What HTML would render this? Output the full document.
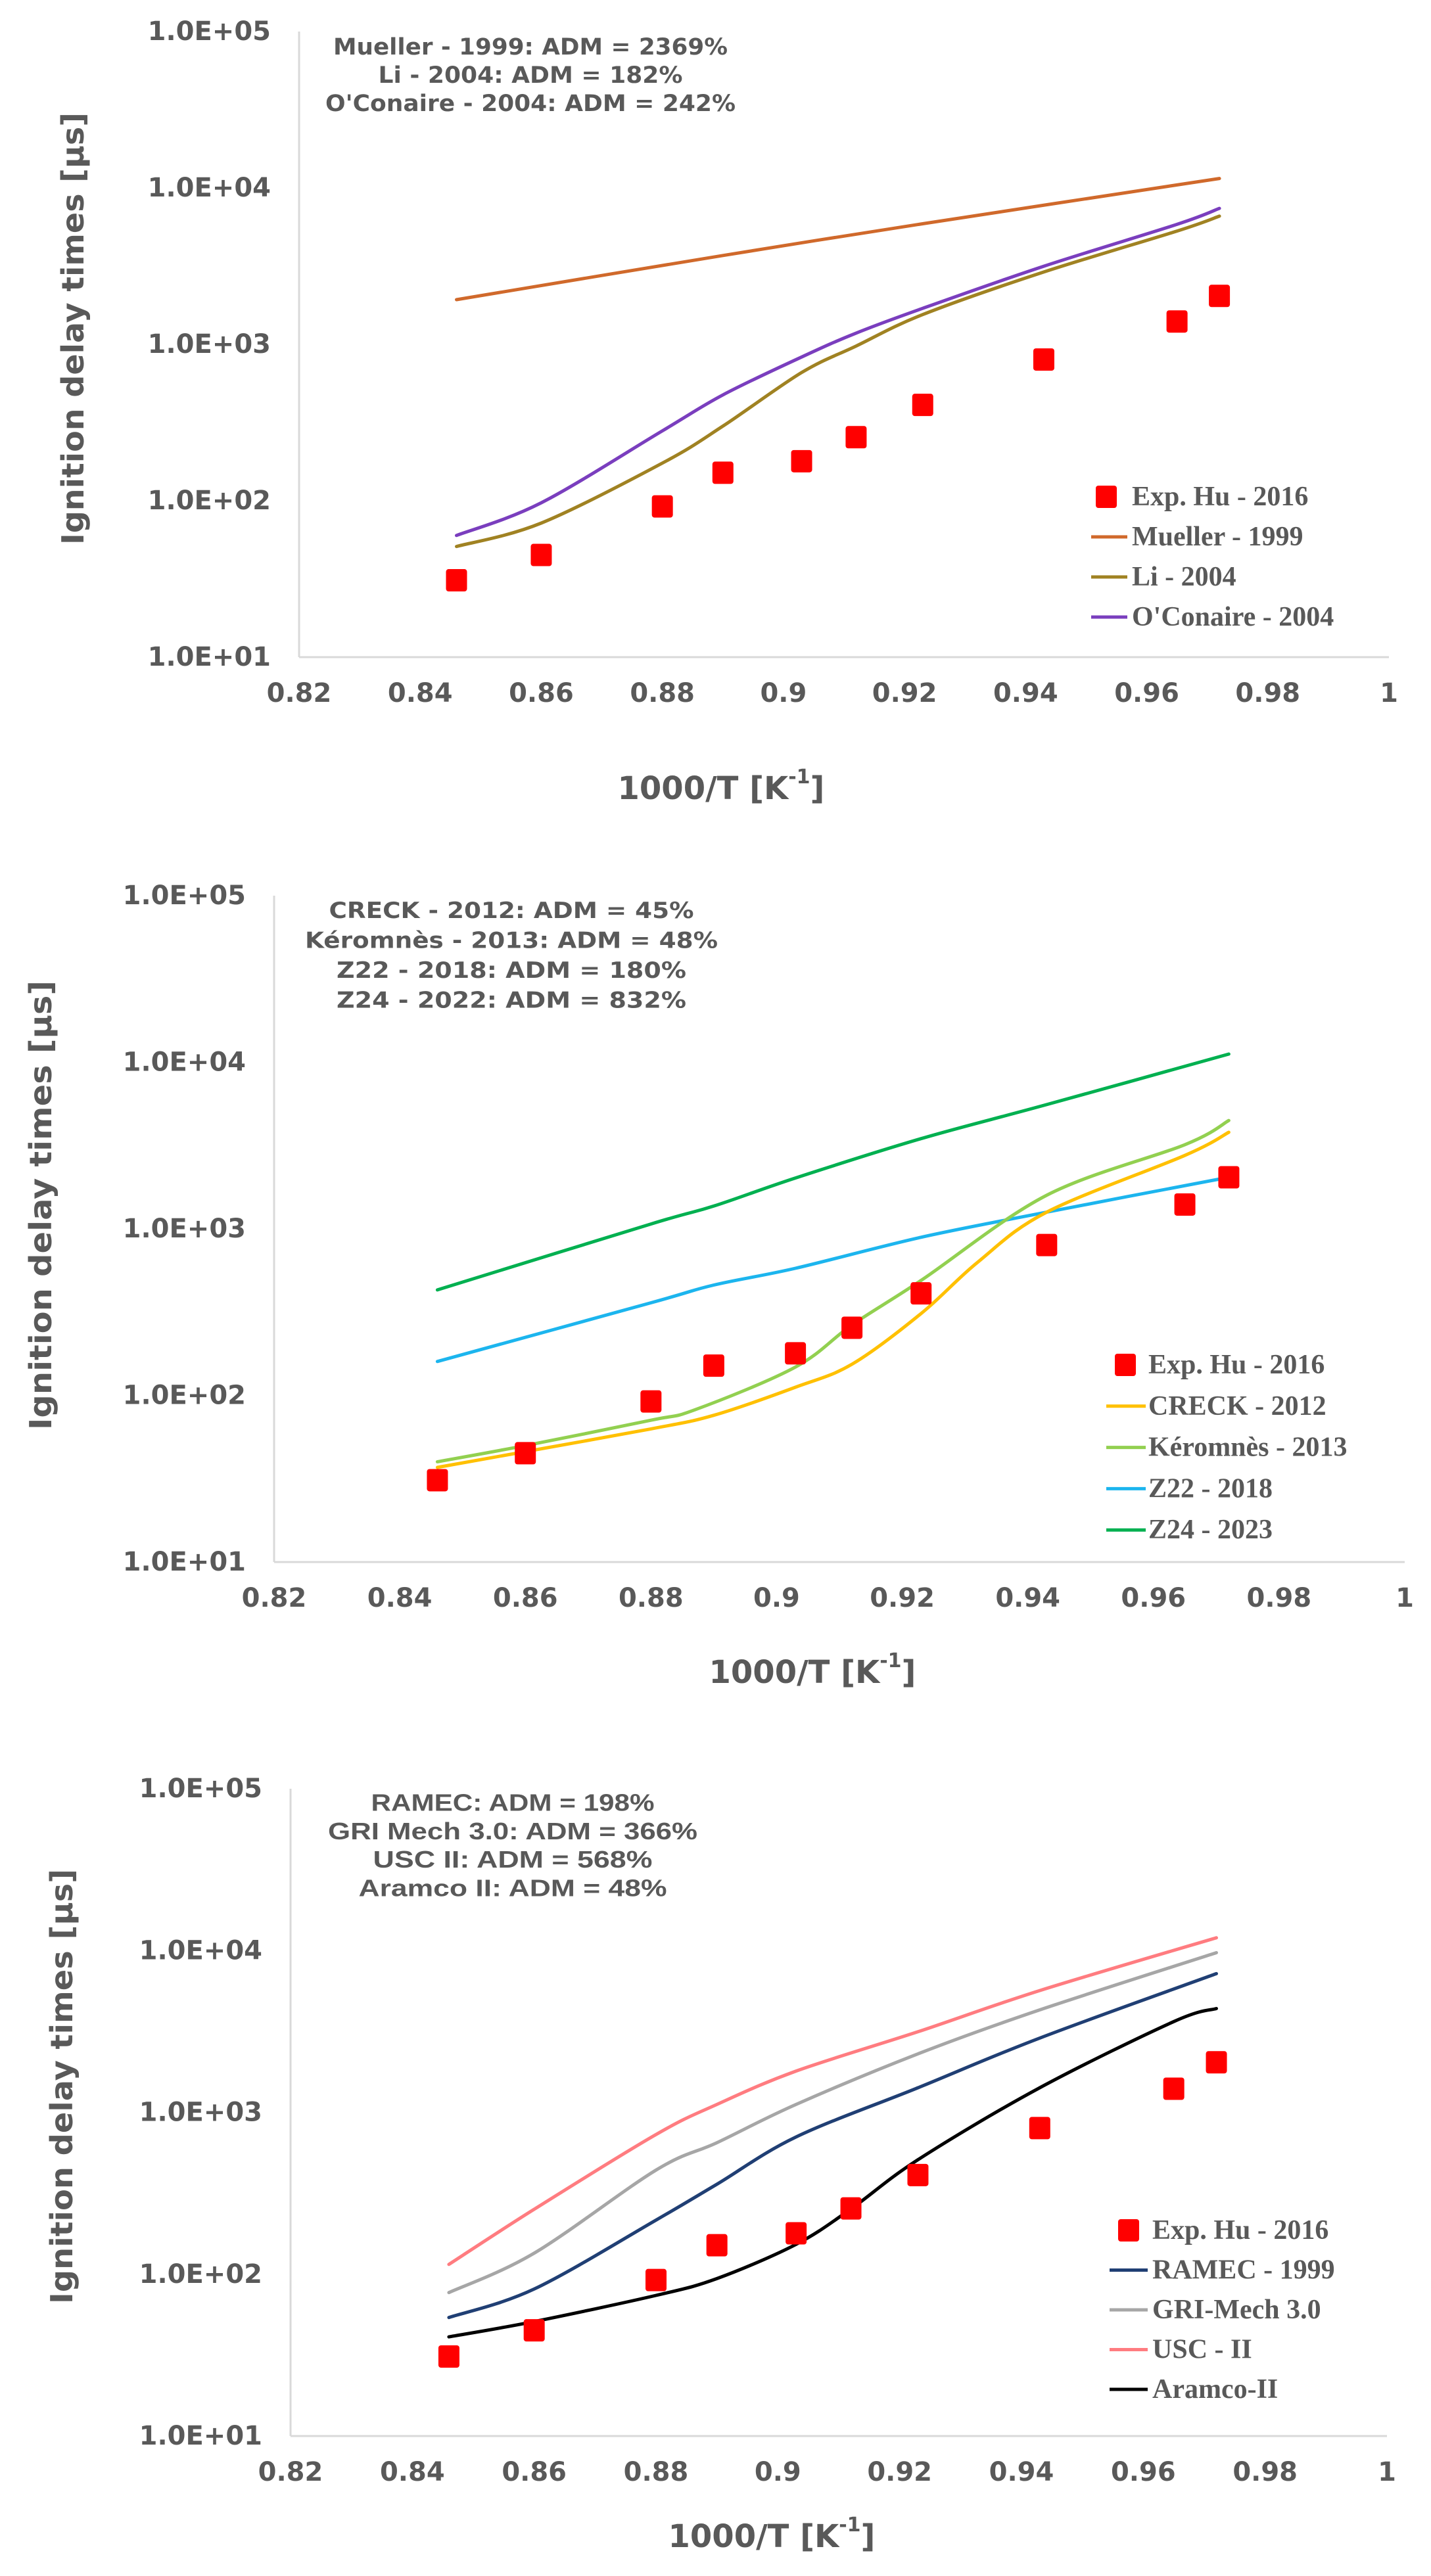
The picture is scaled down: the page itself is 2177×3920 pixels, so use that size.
<!DOCTYPE html>
<html><head><meta charset="utf-8">
<style>
html,body{margin:0;padding:0;background:#fff;}
svg{display:block;}
</style></head>
<body>
<svg id="fig" xmlns="http://www.w3.org/2000/svg" width="2177" height="3920" viewBox="0 0 2177 3920"></svg>
<script>
// ---------- shared data ----------
const xTicks = [0.82,0.84,0.86,0.88,0.9,0.92,0.94,0.96,0.98,1];
const xTickLabels = ["0.82","0.84","0.86","0.88","0.9","0.92","0.94","0.96","0.98","1"];
const yTickLabels = ["1.0E+01","1.0E+02","1.0E+03","1.0E+04","1.0E+05"];
const expX = [0.846,0.860,0.880,0.890,0.903,0.912,0.923,0.943,0.965,0.972];
const expY = [31,45,92,151,179,255,410,800,1400,2040];

// ---------- chart 1 ----------
const c1MuellerX = [0.846,0.890,0.923,0.972];
const c1MuellerY = [1930,3700,5900,11500];
const c1LiX = [0.846,0.860,0.880,0.890,0.903,0.912,0.923,0.943,0.965,0.972];
const c1LiY = [51,72,174,300,660,975,1550,2900,5300,6600];
const c1OcX = [0.846,0.860,0.880,0.890,0.903,0.912,0.923,0.943,0.965,0.972];
const c1OcY = [60,97,280,475,830,1180,1700,3160,5850,7400];

// ---------- chart 2 ----------
const c2CreckX = [0.846,0.860,0.880,0.890,0.903,0.912,0.923,0.932,0.943,0.965,0.972];
const c2CreckY = [37,46,63,76,112,154,310,630,1260,2760,3800];
const c2KerX = [0.846,0.860,0.880,0.887,0.903,0.912,0.923,0.943,0.965,0.972];
const c2KerY = [40,50,71,82,148,265,490,1590,3200,4470];
const c2Z22X = [0.846,0.880,0.890,0.903,0.923,0.943,0.972];
const c2Z22Y = [160,360,460,580,890,1260,2040];
const c2Z24X = [0.846,0.880,0.890,0.903,0.923,0.943,0.972];
const c2Z24Y = [430,1070,1370,2020,3480,5570,11200];

// ---------- chart 3 ----------
const c3UscX = [0.846,0.860,0.880,0.890,0.903,0.923,0.943,0.972];
const c3UscY = [115,252,730,1120,1800,3150,5660,12000];
const c3GriX = [0.846,0.860,0.880,0.890,0.903,0.923,0.943,0.972];
const c3GriY = [77,135,440,650,1120,2300,4300,9700];
const c3RamX = [0.846,0.860,0.880,0.890,0.903,0.923,0.943,0.972];
const c3RamY = [54,81,216,360,705,1420,2880,7200];
const c3AraX = [0.846,0.860,0.880,0.890,0.903,0.912,0.923,0.943,0.965,0.972];
const c3AraY = [41,51,74,94,153,253,510,1420,3640,4380];

const NS = "http://www.w3.org/2000/svg";
const svg = document.getElementById('fig');
function mk(tag, attrs, parent){
  const e = document.createElementNS(NS, tag);
  for (const k in attrs) e.setAttribute(k, attrs[k]);
  (parent||svg).appendChild(e);
  return e;
}
function smoothPath(pts){
  if (pts.length < 2) return '';
  let d = 'M' + pts[0][0].toFixed(1) + ',' + pts[0][1].toFixed(1);
  for (let i = 0; i < pts.length - 1; i++){
    const p0 = pts[i-1] || pts[i], p1 = pts[i], p2 = pts[i+1], p3 = pts[i+2] || p2;
    const t = 6;
    const c1x = p1[0] + (p2[0]-p0[0])/t, c1y = p1[1] + (p2[1]-p0[1])/t;
    const c2x = p2[0] - (p3[0]-p1[0])/t, c2y = p2[1] - (p3[1]-p1[1])/t;
    d += ' C' + c1x.toFixed(1)+','+c1y.toFixed(1)+' '+c2x.toFixed(1)+','+c2y.toFixed(1)+' '+p2[0].toFixed(1)+','+p2[1].toFixed(1);
  }
  return d;
}
const GREY = '#595959';

function drawChart(cfg){
  const g = mk('g', {});
  
  
  const L = cfg.left, R = cfg.right, T = cfg.top, B = cfg.bottom;
  const xs = v => L + (v - 0.82) / 0.18 * (R - L);
  const ys = v => B - (Math.log10(v) - 1) / 4 * (B - T);

  const ya = mk('line', {x1:L, y1:T, x2:L, y2:B, stroke:'#d9d9d9', 'stroke-width':3}, g);
  
  
  const xa = mk('line', {x1:L, y1:B, x2:R, y2:B, stroke:'#d9d9d9', 'stroke-width':3}, g);
  
  

  xTicks.forEach((v, i) => {
    const t = mk('text', {x:xs(v), y:B+55, 'text-anchor':'middle', 'dominant-baseline':'central',
      'font-family':'"DejaVu Sans", "Liberation Sans", sans-serif', 'font-weight':'bold', 'font-size':40, fill:GREY}, g);
    t.textContent = xTickLabels[i];
    
    
  });
  yTickLabels.forEach((lab, i) => {
    const t = mk('text', {x:L-43, y:ys(Math.pow(10, i+1)), 'text-anchor':'end', 'dominant-baseline':'central',
      'font-family':'"DejaVu Sans", "Liberation Sans", sans-serif', 'font-weight':'bold', 'font-size':40, fill:GREY}, g);
    t.textContent = lab;
    
    
  });
  const yt = mk('text', {x:0, y:0, 'text-anchor':'middle', 'dominant-baseline':'central',
    transform:'translate('+cfg.yTitleX+','+cfg.yTitleY+') rotate(-90)',
    'font-family':'"DejaVu Sans", "Liberation Sans", sans-serif', 'font-weight':'bold', 'font-size':46, fill:GREY,
    textLength:cfg.yTitleLen, lengthAdjust:'spacingAndGlyphs'}, g);
  yt.textContent = 'Ignition delay times [µs]';
  
  
  const xt = mk('text', {x:cfg.xTitleX, y:cfg.xTitleY, 'text-anchor':'middle', 'dominant-baseline':'central',
    'font-family':'"DejaVu Sans", "Liberation Sans", sans-serif', 'font-weight':'bold', 'font-size':48, fill:GREY}, g);
  
  
  const s1 = mk('tspan', {}, xt); s1.textContent = '1000/T [K';
  const s2 = mk('tspan', {'font-size':30, dy:-18}, xt); s2.textContent = '-1';
  const s3 = mk('tspan', {dy:18}, xt); s3.textContent = ']';

  cfg.notes.forEach((n, i) => {
    const attrs = {x:cfg.noteX, y:cfg.noteY + i*cfg.noteGap, 'text-anchor':'middle', 'dominant-baseline':'central',
      'font-family':cfg.noteFont, 'font-weight':'bold', 'font-size':cfg.noteSize, fill:GREY};
    if (cfg.noteLens) { attrs.textLength = cfg.noteLens[i]; attrs.lengthAdjust = 'spacingAndGlyphs'; }
    const t = mk('text', attrs, g);
    t.textContent = n;
    
    
  });

  cfg.series.forEach(s => {
    const pts = s.x.map((v, i) => [xs(v), ys(s.y[i])]);
    const p = mk('path', {d:smoothPath(pts), fill:'none', stroke:s.color, 'stroke-width':5, 'stroke-linejoin':'round', 'stroke-linecap':'round'}, g);
    
    
  });
  expX.forEach((v, i) => {
    const r = mk('rect', {x:xs(v)-16, y:ys(expY[i])-17, width:32, height:34, rx:4, fill:'#ff0000'}, g);
    
    
  });

  const lg = mk('g', {}, g);
  
  
  const entries = [{label:'Exp. Hu - 2016', marker:true}].concat(cfg.series.slice().sort((a,b)=>a.order-b.order));
  entries.forEach((e, i) => {
    const y = cfg.legY + i*cfg.legGap;
    if (e.marker){
      const r = mk('rect', {x:cfg.legMarkX-16, y:y-17, width:32, height:34, rx:4, fill:'#ff0000'}, lg);
      
      
    } else {
      const l = mk('line', {x1:cfg.legLineX1, y1:y, x2:cfg.legLineX2, y2:y, stroke:e.color, 'stroke-width':5}, lg);
      
      
    }
    const t = mk('text', {x:cfg.legTextX, y:y, 'dominant-baseline':'central',
      'font-family':'"Liberation Serif", serif', 'font-weight':'bold', 'font-size':42, fill:GREY}, lg);
    t.textContent = e.label;
    
    
  });
}

drawChart({
  name:'chart-1', left:455, right:2113, top:48, bottom:1000,
  yTitleX:111, yTitleY:500, yTitleLen:658, xTitleX:1097, xTitleY:1200,
  notes:['Mueller - 1999: ADM = 2369%','Li - 2004: ADM = 182%',"O'Conaire - 2004: ADM = 242%"],
  noteX:807, noteY:72, noteGap:43, noteSize:35, noteFont:'"DejaVu Sans", "Liberation Sans", sans-serif',
  noteLens:[600,463,624],
  series:[
    {id:'mueller-1999', label:'Mueller - 1999', color:'#D0692B', x:c1MuellerX, y:c1MuellerY, order:1},
    {id:'li-2004', label:'Li - 2004', color:'#A08222', x:c1LiX, y:c1LiY, order:2},
    {id:'oconaire-2004', label:"O'Conaire - 2004", color:'#7A3EBE', x:c1OcX, y:c1OcY, order:3}
  ],
  legY:756, legGap:61, legMarkX:1683, legLineX1:1660, legLineX2:1715, legTextX:1722
});

drawChart({
  name:'chart-2', left:417, right:2137, top:1363, bottom:2377,
  yTitleX:62, yTitleY:1834, yTitleLen:684, xTitleX:1236, xTitleY:2545,
  notes:['CRECK - 2012: ADM = 45%','Kéromnès - 2013: ADM = 48%','Z22 - 2018: ADM = 180%','Z24 - 2022: ADM = 832%'],
  noteX:778, noteY:1386, noteGap:45.5, noteSize:34, noteFont:'"DejaVu Sans", "Liberation Sans", sans-serif',
  noteLens:[555,628,532,532],
  series:[
    {id:'z24-2023', label:'Z24 - 2023', color:'#00B050', x:c2Z24X, y:c2Z24Y, order:4},
    {id:'z22-2018', label:'Z22 - 2018', color:'#1CB5EE', x:c2Z22X, y:c2Z22Y, order:3},
    {id:'keromnes-2013', label:'Kéromnès - 2013', color:'#92D050', x:c2KerX, y:c2KerY, order:2},
    {id:'creck-2012', label:'CRECK - 2012', color:'#FFC000', x:c2CreckX, y:c2CreckY, order:1}
  ],
  legY:2077, legGap:62.8, legMarkX:1712, legLineX1:1683, legLineX2:1743, legTextX:1747
});

drawChart({
  name:'chart-3', left:442, right:2110, top:2722, bottom:3707,
  yTitleX:94, yTitleY:3175, yTitleLen:662, xTitleX:1174, xTitleY:3860,
  notes:['RAMEC: ADM = 198%','GRI Mech 3.0: ADM = 366%','USC II: ADM = 568%','Aramco II: ADM = 48%'],
  noteX:780, noteY:2743, noteGap:43.3, noteSize:36, noteFont:'"Liberation Sans", sans-serif',
  noteLens:[431,562,425,469],
  series:[
    {id:'usc-ii', label:'USC - II', color:'#FF7C80', x:c3UscX, y:c3UscY, order:3},
    {id:'gri-mech-3', label:'GRI-Mech 3.0', color:'#A6A6A6', x:c3GriX, y:c3GriY, order:2},
    {id:'ramec-1999', label:'RAMEC - 1999', color:'#203F74', x:c3RamX, y:c3RamY, order:1},
    {id:'aramco-ii', label:'Aramco-II', color:'#000000', x:c3AraX, y:c3AraY, order:4}
  ],
  legY:3394, legGap:60.5, legMarkX:1717, legLineX1:1688, legLineX2:1746, legTextX:1753
});
</script>
</body></html>
